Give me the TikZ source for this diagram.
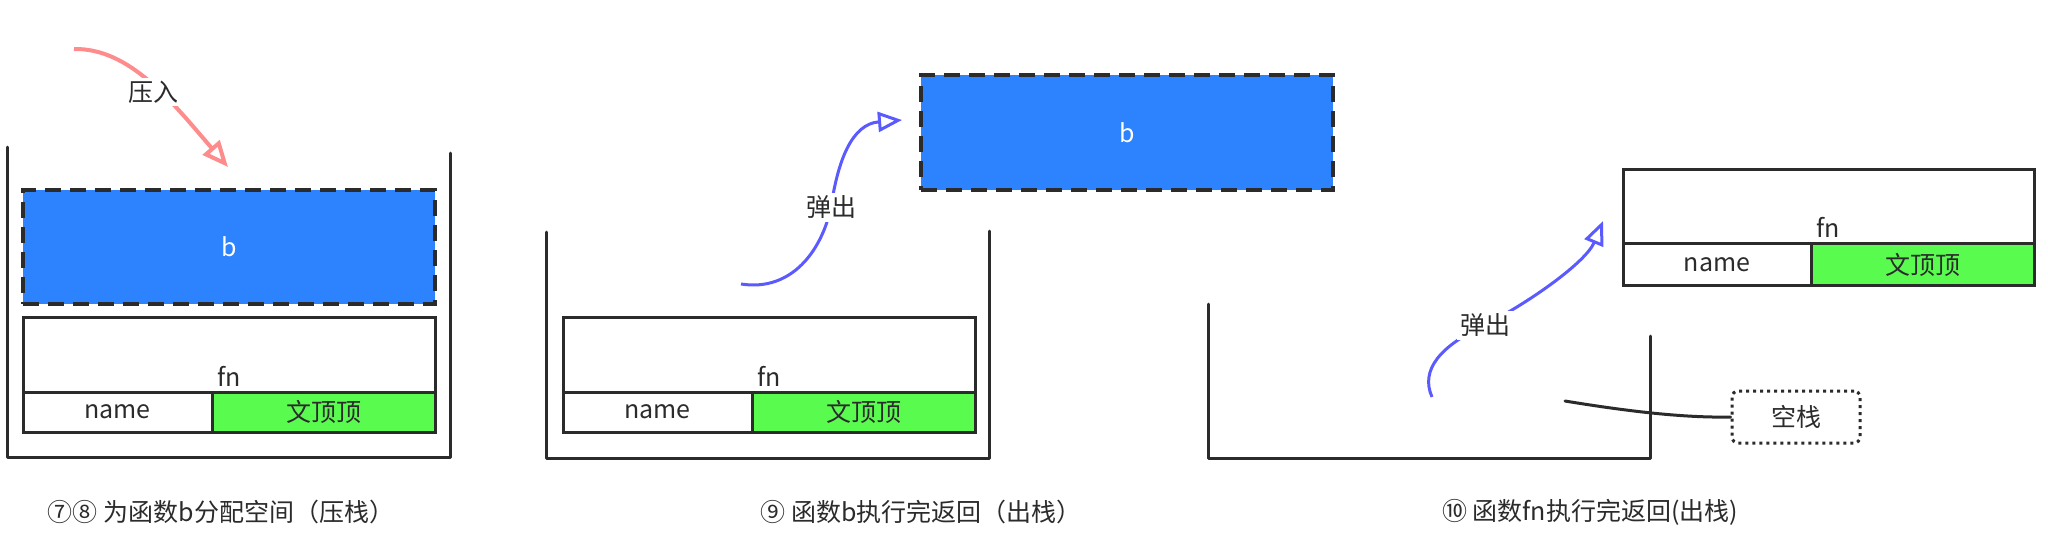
\documentclass[tikz,border=0pt]{standalone}
\usepackage{fontspec}
\setmainfont{Noto Sans CJK SC}
\usetikzlibrary{arrows.meta}
\definecolor{ink}{HTML}{2B2B2B}
\definecolor{bblue}{HTML}{2D82FE}
\definecolor{cgreen}{HTML}{59FB4F}
\definecolor{pinkarr}{HTML}{FF8C8C}
\definecolor{bluearr}{HTML}{5A5AFF}
\tikzset{
  wall/.style={draw=ink, line width=1.5pt, line join=round, line cap=round},
  cell/.style={draw=ink, line width=1.5pt, inner sep=0pt, outer sep=0pt},
  bbox/.style={draw=ink, fill=bblue, line width=2pt, dash pattern=on 8pt off 4.5pt, inner sep=0pt},
  txt/.style={font=\fontsize{12.5pt}{14pt}\selectfont, text=ink, inner sep=1pt},
  lbl/.style={font=\fontsize{12.5pt}{14pt}\selectfont, text=ink, fill=white, inner sep=1.5pt},
  captxt/.style={font=\fontsize{12.5pt}{14pt}\selectfont, text=ink},
  pusharr/.style={draw=pinkarr, line width=2pt, -{Triangle[open, length=13pt, width=11pt]}},
  poparr/.style={draw=bluearr, line width=1.5pt, -{Triangle[open, length=12pt, width=10pt]}},
  emptybox/.style={draw=ink, line width=1.5pt, dash pattern=on 1.5pt off 2pt, rounded corners=3pt, minimum width=64pt, minimum height=26pt, inner sep=0pt, font=\fontsize{12.5pt}{14pt}\selectfont, text=ink},
}
\begin{document}
\begin{tikzpicture}[x=0.5pt, y=-0.5pt]
\useasboundingbox (0,0) rectangle (2048,554);
% ---------- panel 1 ----------
\draw[wall] (7,147) -- (7,457) -- (450,457) -- (450,153);
\node[bbox, minimum width=206pt, minimum height=57pt] (b1) at (229,247) {};
\node[text=white, font=\fontsize{12.5pt}{14pt}\selectfont] (b1t) at (229,247) {b};
\node[cell, minimum width=206pt, minimum height=37.5pt] (fn1) at (229,354.5) {};
\node[cell, minimum width=94.5pt, minimum height=20pt] (nm1) at (117.5,412) {};
\node[cell, fill=cgreen, minimum width=111.5pt, minimum height=20pt] (vl1) at (323.5,412) {};
\node[txt] (fn1t) at (229,376) {fn};
\node[txt] (nm1t) at (117.5,412) {name};
\node[txt] (vl1t) at (323.5,412) {文顶顶};
\coordinate (p1s) at (74,49);
\coordinate (p1e) at (228,167);
\draw[pusharr] (p1s) .. controls (130,48) and (172,102) .. (p1e);
\node[lbl] (push) at (153,92) {压入};
\node[captxt] (cap1) at (221,512) {⑦⑧ 为函数b分配空间（压栈）};
% ---------- panel 2 ----------
\draw[wall] (546,232) -- (546,458) -- (989,458) -- (989,231);
\node[bbox, minimum width=206pt, minimum height=57.5pt] (b2) at (1127,132.5) {};
\node[text=white, font=\fontsize{12.5pt}{14pt}\selectfont] (b2t) at (1127,133) {b};
\node[cell, minimum width=206pt, minimum height=37.5pt] (fn2) at (769,354.5) {};
\node[cell, minimum width=94.5pt, minimum height=20pt] (nm2) at (657.5,412) {};
\node[cell, fill=cgreen, minimum width=111.5pt, minimum height=20pt] (vl2) at (863.5,412) {};
\node[txt] (fn2t) at (769,376) {fn};
\node[txt] (nm2t) at (657.5,412) {name};
\node[txt] (vl2t) at (863.5,412) {文顶顶};
\coordinate (p2s) at (741,284);
\coordinate (p2e) at (902,120);
\draw[poparr] (p2s) .. controls (792,292) and (822,250) .. (831,207) .. controls (838,160) and (852,124) .. (p2e);
\node[lbl] (pop2) at (831,207) {弹出};
\node[captxt] (cap2) at (921,512) {⑨ 函数b执行完返回（出栈）};
% ---------- panel 3 ----------
\draw[wall] (1208,304) -- (1208,458) -- (1650,458) -- (1650,336);
\node[cell, minimum width=205.5pt, minimum height=37pt] (fn3) at (1828.5,206) {};
\node[cell, minimum width=94pt, minimum height=21pt] (nm3) at (1717,264) {};
\node[cell, fill=cgreen, minimum width=111.5pt, minimum height=21pt] (vl3) at (1922.5,264) {};
\node[txt] (fn3t) at (1828.5,227) {fn};
\node[txt] (nm3t) at (1717,265) {name};
\node[txt] (vl3t) at (1922.5,265) {文顶顶};
\coordinate (p3s) at (1432,397);
\coordinate (p3e) at (1603,221);
\draw[poparr] (p3s) .. controls (1420,370) and (1440,346) .. (1485,325) .. controls (1530,302) and (1586,262) .. (p3e);
\node[lbl] (pop3) at (1485,325) {弹出};
\node[emptybox] (empty) at (1796,417) {空栈};
\coordinate (e3s) at (1565,401);
\draw[draw=ink, line width=1.5pt, line cap=round] (e3s) .. controls (1620,410) and (1680,418) .. (empty.west);
\node[captxt] (cap3) at (1590,512) {⑩ 函数fn执行完返回(出栈)};
\end{tikzpicture}
\end{document}
